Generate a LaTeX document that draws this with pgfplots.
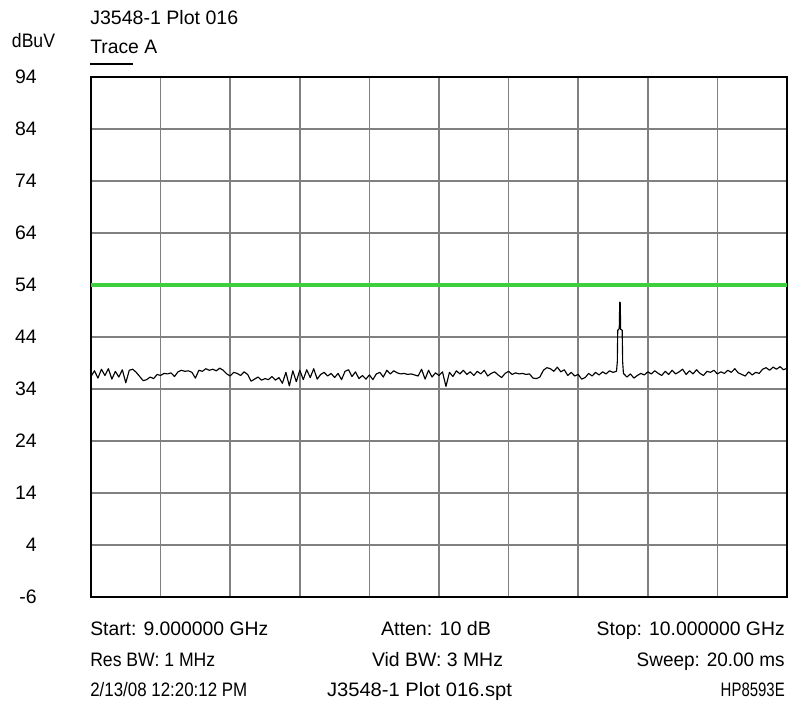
\documentclass[border=0pt]{standalone}
\usepackage{fontspec}
\setmainfont{Liberation Sans}
\usepackage{graphicx}
\usepackage{pgfplots}
\pgfplotsset{compat=1.18}
\definecolor{lgreen}{RGB}{60,208,60}
\definecolor{gridgray}{RGB}{128,128,128}
\newcommand\fs{\fontsize{14.6}{17}\selectfont}
\newlength\fitlen
\newcommand\fitw[2]{\settowidth{\fitlen}{#2}\pgfmathsetmacro\fitsc{0.75*#1/\fitlen}\scalebox{\fitsc}[1]{#2}}
\begin{document}
\begin{tikzpicture}
\path[use as bounding box] (-68.25pt,-80.25pt) rectangle (524.25pt,447.75pt);
\begin{axis}[
  at={(0,0)}, anchor=south west,
  width=522pt, height=390pt, scale only axis,
  xmin=9, xmax=10, ymin=-6, ymax=94,
  xtick={9,9.1,9.2,9.3,9.4,9.5,9.6,9.7,9.8,9.9,10}, xticklabels={},
  ytick={-6,4,14,24,34,44,54,64,74,84,94},
  grid=major,
  major grid style={gridgray, line width=1.1pt},
  major tick length=0pt,
  axis line style={black, line width=1.2pt},
  yticklabel style={font=\fs, anchor=east, inner sep=0pt, xshift=-40.5pt},
  /pgf/number format/assume math mode=true,
]
\addplot[lgreen, line width=2.3pt, forget plot] coordinates {(9,54) (10,54)};
\addplot[black, line width=0.85pt, line join=round, forget plot] coordinates {
(9.000,36.4)(9.005,37.5)(9.010,36.1)(9.015,37.8)(9.020,36.6)(9.025,37.9)(9.030,35.9)(9.035,37.4)(9.040,36.3)(9.045,37.7)
(9.050,35.2)(9.055,37.6)(9.060,37.8)(9.065,37.2)(9.070,36.4)(9.075,35.6)(9.080,35.8)(9.085,36.3)(9.090,36.0)(9.095,36.8)
(9.100,36.6)(9.105,37.0)(9.110,36.9)(9.115,37.1)(9.120,36.4)(9.125,37.3)(9.130,37.6)(9.135,37.4)(9.140,37.5)(9.145,37.2)
(9.150,36.1)(9.155,37.6)(9.160,37.4)(9.165,37.9)(9.170,37.6)(9.175,37.8)(9.180,37.5)(9.185,38.0)(9.190,37.6)(9.195,36.9)
(9.200,36.5)(9.205,37.2)(9.210,37.0)(9.215,36.6)(9.220,37.3)(9.225,36.8)(9.230,35.5)(9.235,35.9)(9.240,36.3)(9.245,35.7)
(9.250,36.0)(9.255,35.8)(9.260,36.4)(9.265,35.7)(9.270,36.2)(9.275,35.1)(9.280,37.2)(9.285,34.6)(9.290,37.5)(9.295,35.4)
(9.300,37.6)(9.305,35.8)(9.310,37.7)(9.315,36.2)(9.320,37.9)(9.325,35.9)(9.330,36.8)(9.335,37.2)(9.340,36.5)(9.345,37.0)
(9.350,36.2)(9.355,37.0)(9.360,35.8)(9.365,37.4)(9.370,37.7)(9.375,36.4)(9.380,37.3)(9.385,36.0)(9.390,36.6)(9.395,35.9)
(9.400,36.7)(9.405,35.8)(9.410,36.9)(9.415,37.2)(9.420,36.3)(9.425,37.6)(9.430,36.9)(9.435,37.5)(9.440,37.1)(9.445,36.9)
(9.450,37.0)(9.455,36.8)(9.460,36.9)(9.465,36.7)(9.470,36.5)(9.475,37.8)(9.480,35.9)(9.485,37.6)(9.490,36.3)(9.495,37.1)
(9.500,36.6)(9.505,37.3)(9.510,34.5)(9.515,37.2)(9.520,36.4)(9.525,37.5)(9.530,36.9)(9.535,37.6)(9.540,36.8)(9.545,37.3)
(9.550,36.6)(9.555,37.4)(9.560,36.9)(9.565,37.6)(9.570,36.5)(9.575,37.0)(9.580,37.3)(9.585,36.7)(9.590,36.2)(9.595,37.0)
(9.600,37.4)(9.605,36.8)(9.610,37.1)(9.615,36.9)(9.620,37.0)(9.625,36.8)(9.630,36.9)(9.635,36.1)(9.640,36.0)(9.645,36.3)
(9.650,37.6)(9.655,38.1)(9.660,37.9)(9.665,37.4)(9.670,38.2)(9.675,37.3)(9.680,37.7)(9.685,36.6)(9.690,37.2)(9.695,36.5)
(9.700,36.8)(9.705,35.9)(9.710,36.2)(9.715,37.0)(9.720,36.5)(9.725,37.2)(9.730,36.7)(9.735,37.3)(9.740,36.9)(9.745,37.5)
(9.750,37.2)(9.7550,37.4)(9.7562,39.2)(9.7568,45.3)(9.7590,45.6)(9.7597,50.7)(9.7604,50.6)(9.7610,45.5)(9.7632,45.3)(9.7639,39.2)(9.7650,37.0)
(9.770,36.3)(9.775,36.9)(9.780,36.1)(9.785,36.6)(9.790,37.0)(9.795,36.7)
(9.800,37.3)(9.805,36.9)(9.810,37.5)(9.815,37.0)(9.820,36.6)(9.825,37.4)(9.830,36.8)(9.835,37.6)(9.840,36.9)(9.845,37.3)
(9.850,37.8)(9.855,36.8)(9.860,37.5)(9.865,36.9)(9.870,37.7)(9.875,37.0)(9.880,36.6)(9.885,37.4)(9.890,37.2)(9.895,37.6)
(9.900,36.9)(9.905,37.3)(9.910,37.0)(9.915,37.6)(9.920,37.2)(9.925,37.9)(9.930,37.1)(9.935,36.8)(9.940,36.5)(9.945,37.3)
(9.950,36.7)(9.955,37.2)(9.960,37.0)(9.965,37.8)(9.970,38.1)(9.975,37.6)(9.980,38.2)(9.985,37.8)(9.990,38.3)(9.995,37.7)
(10.000,38.0)
};
\end{axis}
\begin{scope}[x=0.75pt, y=0.75pt, every node/.style={font=\fs, inner sep=0pt}]
\node[anchor=base west] at (-1,572) {\fitw{148}{J3548-1 Plot 016}};
\node[anchor=base west] at (-1,543) {\fitw{67}{Trace A}};
\draw[black, line width=1.2pt] (-1,533) -- (42,533);
\node[anchor=base] at (-57.5,549) {\fitw{43}{dBuV}};
\node[anchor=base west] at (-1,-38) {\fitw{178}{Start: 9.000000 GHz}};
\node[anchor=base west] at (-1,-69) {\fitw{125}{Res BW: 1 MHz}};
\node[anchor=base west] at (-1,-99) {\fitw{157}{2/13/08 12:20:12 PM}};
\node[anchor=base] at (345,-38) {\fitw{110}{Atten: 10 dB}};
\node[anchor=base] at (346.5,-69) {\fitw{131}{Vid BW: 3 MHz}};
\node[anchor=base] at (328.5,-99) {\fitw{185}{J3548-1 Plot 016.spt}};
\node[anchor=base east] at (694,-38) {\fitw{188}{Stop: 10.000000 GHz}};
\node[anchor=base east] at (694,-69) {\fitw{148}{Sweep: 20.00 ms}};
\node[anchor=base east] at (694,-99) {\fitw{64}{HP8593E}};
\end{scope}
\end{tikzpicture}
\end{document}
